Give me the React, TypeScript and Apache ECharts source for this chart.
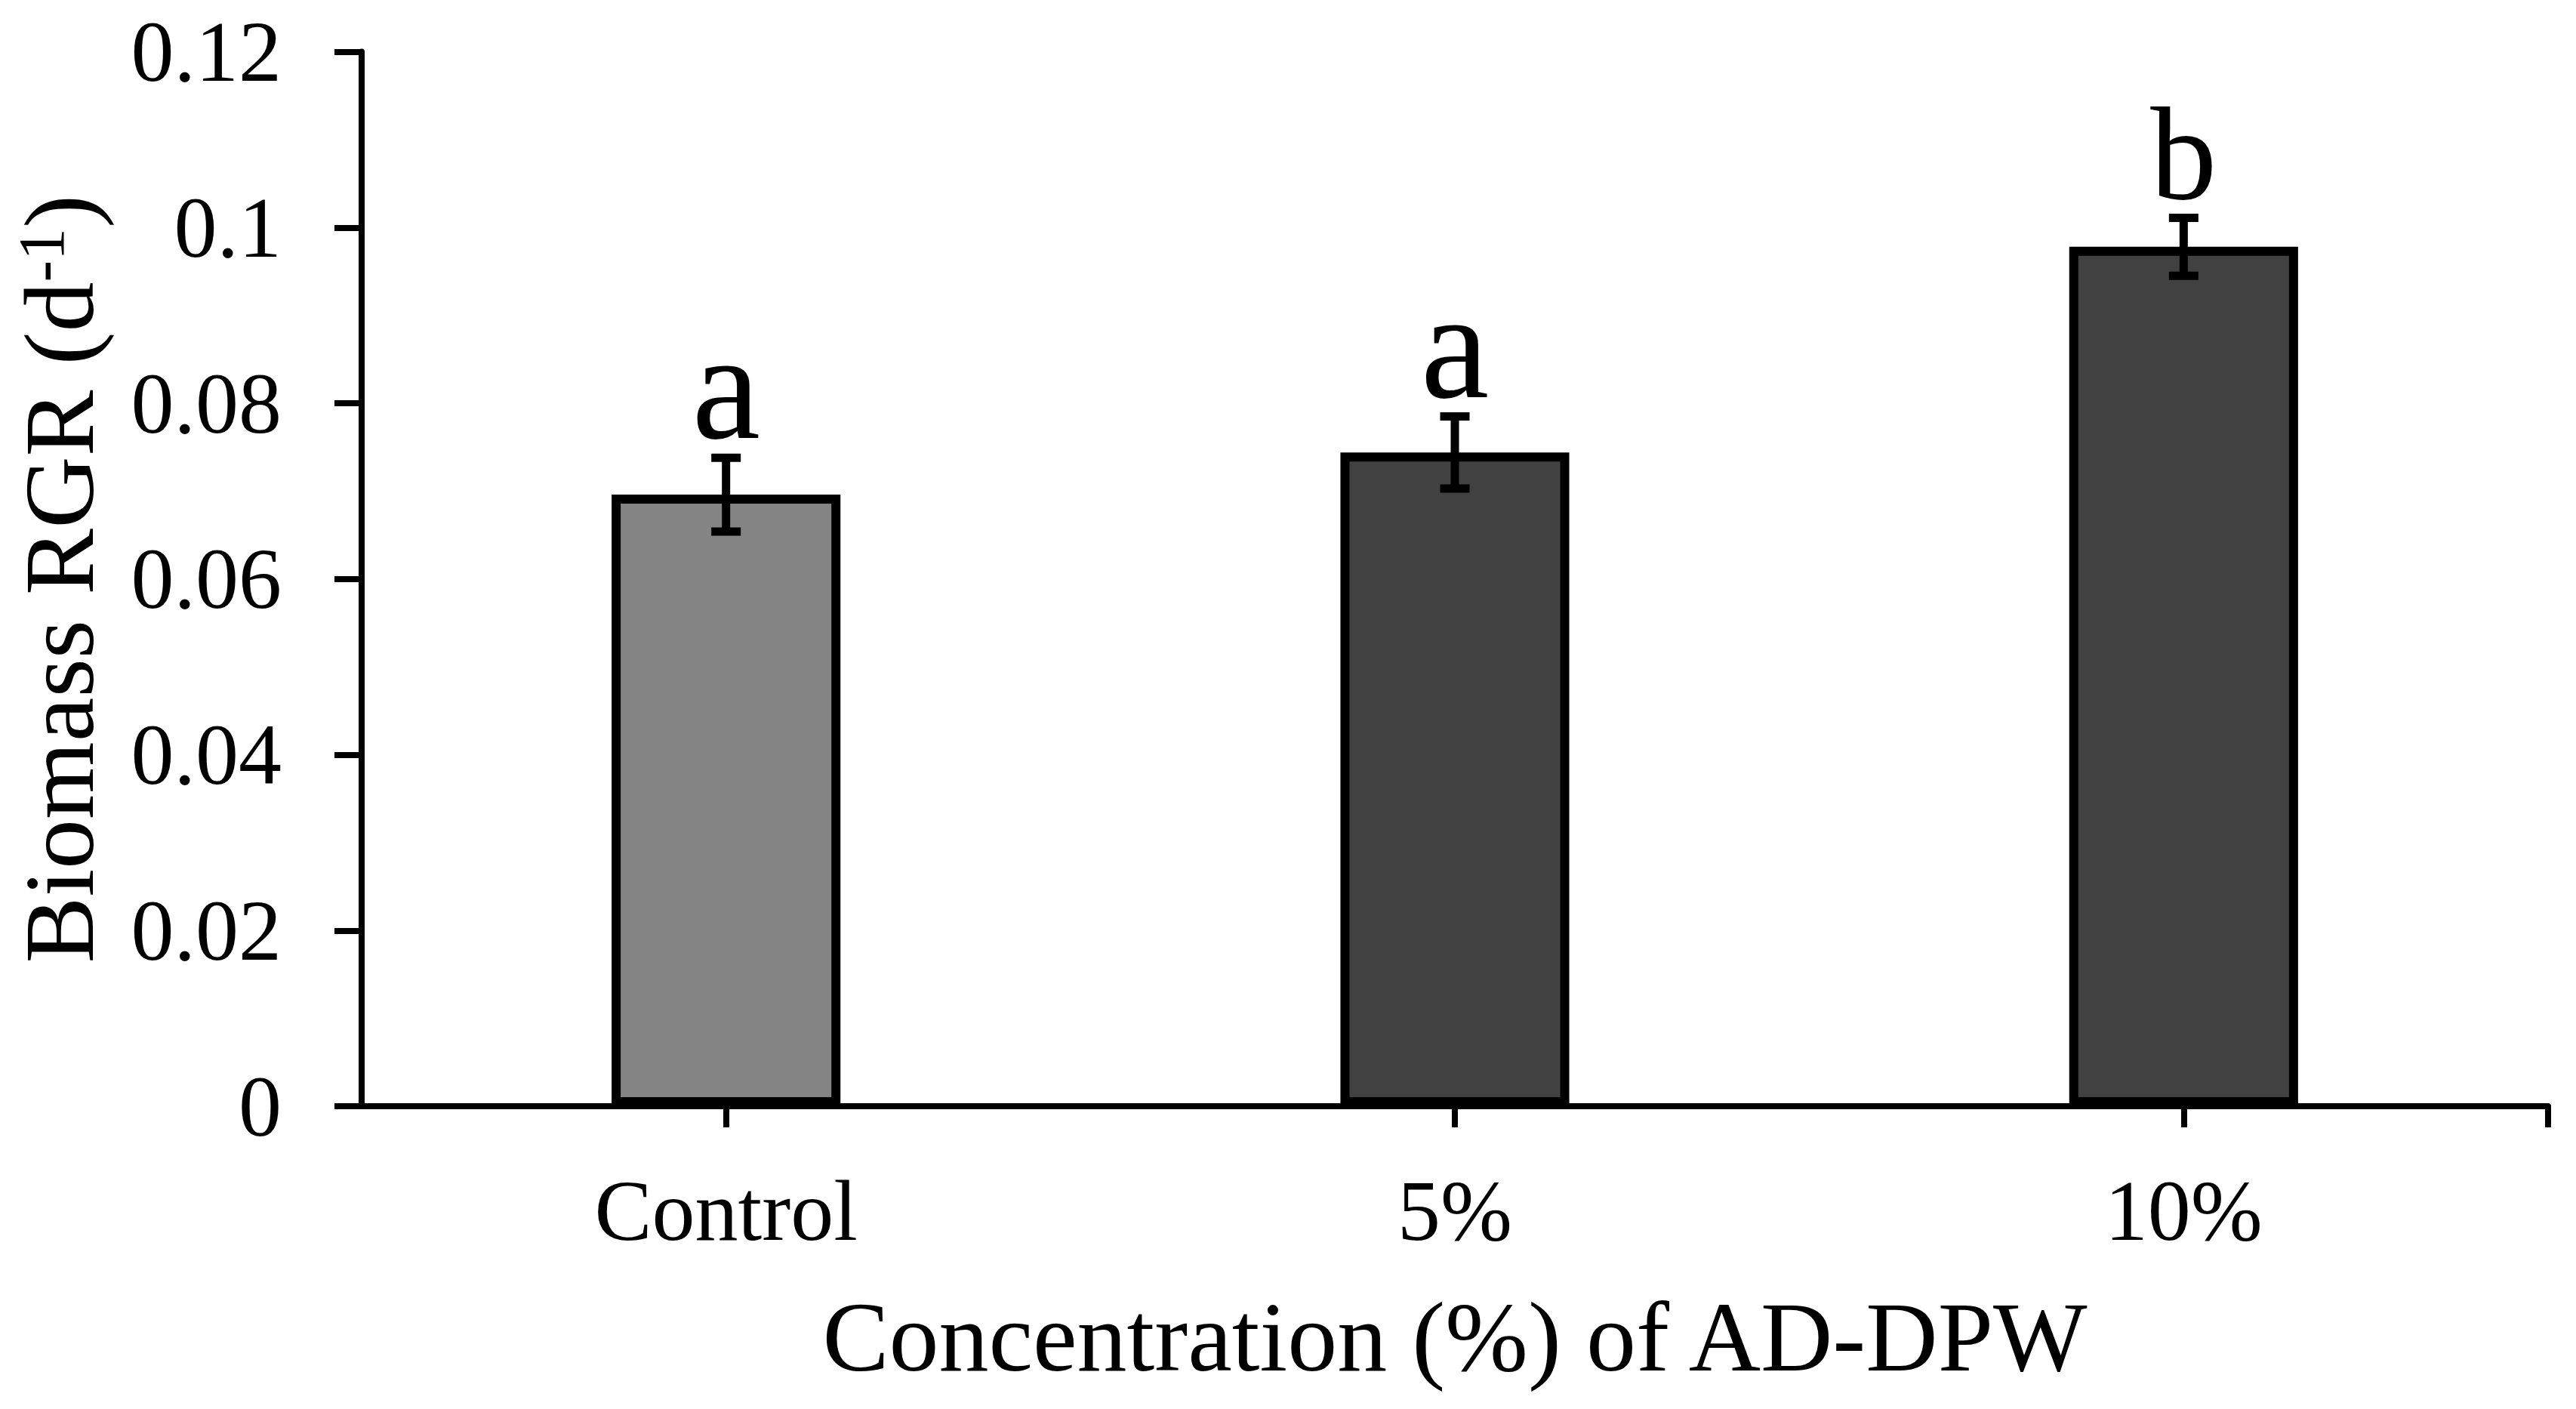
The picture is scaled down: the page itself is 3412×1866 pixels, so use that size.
import React, { useEffect, useRef } from 'react';
import * as echarts from 'echarts';

// ---- data ----
const categories = ['Control', '5%', '10%'];
const meanRGR = [0.0696, 0.0744, 0.0978];
const errRGR = [0.0042, 0.0041, 0.0033];
const letters = ['a', 'a', 'b'];
const yMin = 0;
const yMax = 0.12;
const yStep = 0.02;

// ---- styles ----
const W = 3412;
const H = 1866;
const GRID = { left: 479, right: 37, top: 68.5, bottom: 401 };
const FONT = '"Liberation Serif", "Times New Roman", serif';
const barColors = ['#848484', '#414141', '#414141'];
const letterSize: Record<string, number> = { a: 204, b: 176 };

export default function App() {
  const ref = useRef<HTMLDivElement>(null);

  useEffect(() => {
    if (!ref.current) return;
    const chart = echarts.init(ref.current, undefined, { renderer: 'svg' });
    const axisX = W - GRID.right;
    const axisY = H - GRID.bottom;

    chart.setOption({
      animation: false,
      backgroundColor: '#ffffff',
      grid: { left: GRID.left, right: GRID.right, top: GRID.top, bottom: GRID.bottom, containLabel: false },
      xAxis: {
        type: 'category',
        data: categories,
        boundaryGap: true,
        axisLine: { show: true, lineStyle: { color: '#000', width: 8 } },
        axisTick: { show: true, alignWithLabel: true, length: 28, lineStyle: { color: '#000', width: 8 } },
        axisLabel: { color: '#000', fontFamily: FONT, fontSize: 114, margin: 81 },
        splitLine: { show: false },
        name: 'Concentration (%) of AD-DPW',
        nameLocation: 'middle',
        nameGap: 239,
        nameTextStyle: { color: '#000', fontFamily: FONT, fontSize: 132 },
      },
      yAxis: {
        type: 'value',
        min: yMin,
        max: yMax,
        interval: yStep,
        axisLine: { show: true, lineStyle: { color: '#000', width: 8 } },
        axisTick: { show: true, length: 36, lineStyle: { color: '#000', width: 8 } },
        axisLabel: { color: '#000', fontFamily: FONT, fontSize: 114, margin: 106 },
        splitLine: { show: false },
        name: '{m|Biomass RGR (d}{s|-1}{m|)}',
        nameLocation: 'middle',
        nameGap: 335,
        nameTextStyle: {
          color: '#000',
          fontFamily: FONT,
          fontSize: 132,
          rich: {
            m: { fontFamily: FONT, fontSize: 132, lineHeight: 132, color: '#000' },
            s: { fontFamily: FONT, fontSize: 86, lineHeight: 86, verticalAlign: 'top', color: '#000' },
          },
        },
      },
      series: [
        {
          type: 'bar',
          data: meanRGR.map((v, i) => ({
            value: v,
            itemStyle: { color: barColors[i], borderColor: '#000', borderWidth: 12 },
          })),
          barWidth: '31.4%',
          z: 2,
        },
        {
          type: 'custom',
          data: meanRGR.map((v, i) => [i, v, errRGR[i]]),
          encode: { x: 0, y: 1 },
          z: 3,
          renderItem: (params: any, api: any) => {
            const i = api.value(0);
            const m = api.value(1);
            const e = api.value(2);
            const top = api.coord([i, m + e]);
            const bot = api.coord([i, m - e]);
            const x = top[0];
            const letter = letters[params.dataIndex];
            const fs = letterSize[letter];
            const cap = 19.5;
            const lw = 11;
            return {
              type: 'group',
              children: [
                { type: 'line', shape: { x1: x, y1: top[1], x2: x, y2: bot[1] }, style: { stroke: '#000', lineWidth: lw } },
                { type: 'line', shape: { x1: x - cap, y1: top[1], x2: x + cap, y2: top[1] }, style: { stroke: '#000', lineWidth: lw } },
                { type: 'line', shape: { x1: x - cap, y1: bot[1], x2: x + cap, y2: bot[1] }, style: { stroke: '#000', lineWidth: lw } },
                {
                  type: 'text',
                  x,
                  y: top[1] - 26 - 0.3375 * fs,
                  style: { text: letter, fontSize: fs, fontFamily: FONT, fill: '#000', align: 'center', verticalAlign: 'middle' },
                },
              ],
            };
          },
        },
      ],
      graphic: [
        {
          type: 'line',
          shape: { x1: axisX, y1: axisY, x2: axisX, y2: axisY + 28 },
          style: { stroke: '#000', lineWidth: 8 },
          z: 10,
        },
      ],
    });

    return () => chart.dispose();
  }, []);

  return <div ref={ref} style={{ position: 'fixed', left: 0, top: 0, width: W, height: H }} />;
}
